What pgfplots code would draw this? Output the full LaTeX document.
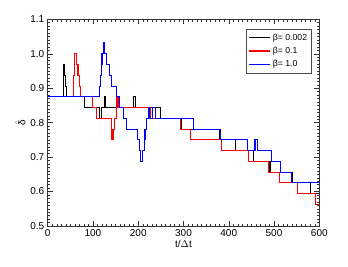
\documentclass[border=0pt]{standalone}
\usepackage{pgfplots}
\pgfplotsset{compat=1.18}
\usepackage{fontspec}
\setmainfont{Liberation Sans}
\begin{document}
\fontsize{10}{12}\selectfont
\begin{tikzpicture}[x=1pt,y=1pt]
\path[use as bounding box] (-47.7,-40) rectangle (300.3,226);
\begin{axis}[
  at={(0,0)}, anchor=south west,
  scale only axis, width=271.6pt, height=206.7pt,
  xmin=0, xmax=600, ymin=0.5, ymax=1.1,
  xtick={0,100,...,600}, ytick={0.5,0.6,...,1.1},
  minor x tick num=9, minor y tick num=9,
  tick align=inside, major tick length=5pt, minor tick length=2.5pt,
  xticklabel style={/pgf/number format/assume math mode=true},
  yticklabel style={/pgf/number format/assume math mode=true,
    /pgf/number format/fixed, /pgf/number format/fixed zerofill, /pgf/number format/precision=1},
  tick label style={font=\fontsize{10}{12}\selectfont},
  axis line style={black!80, line width=0.6pt},
  every tick/.style={black!80, line width=0.5pt},
  xlabel={t/$\Delta$t}, ylabel={\ensuremath{\hat{\mbox{δ}}}},
  label style={font=\fontsize{10}{12}\selectfont},
  xlabel style={yshift=3pt},
  ylabel style={yshift=-2pt},
  legend style={at={(0.973,0.953)}, anchor=north east, draw=black!70, line width=0.6pt,
    font=\fontsize{8.7}{10}\selectfont, row sep=1.6pt, inner sep=2.5pt, cells={anchor=west}},
  legend cell align=left,
  legend image code/.code={\draw[#1, line width=1.3pt] (0pt,0pt) -- (21pt,0pt);},
]
\addplot[const plot, black, line width=1.1pt] coordinates {
(0,0.875) (34,0.96875) (37,0.9375) (39,0.90625) (41,0.875) (82,0.84375) (114,0.8125) (118,0.84375) (125,0.875) (128,0.84375) (189,0.875) (193,0.84375) (250,0.8125) (295,0.78125) (379,0.75) (414,0.71875) (455,0.6875) (491,0.65625) (540,0.625) (581,0.59375) (600,0.59375)};
\addlegendentry{β= 0.002}
\addplot[const plot, red, line width=1.1pt] coordinates {
(0,0.875) (57,0.9375) (60,1.0) (64,0.96875) (67,0.9375) (70,0.90625) (73,0.875) (99,0.84375) (107,0.8125) (140,0.78125) (142,0.75) (145,0.78125) (148,0.8125) (151,0.84375) (153,0.875) (157,0.84375) (226,0.8125) (293,0.78125) (316,0.75) (384,0.71875) (443,0.6875) (487,0.65625) (513,0.625) (551,0.59375) (591,0.5625) (600,0.5625)};
\addlegendentry{β= 0.1}
\addplot[const plot, blue, line width=1.1pt] coordinates {
(0,0.875) (114,0.90625) (116,0.9375) (118,0.96875) (120,1.0) (123,1.03125) (126,1.0) (130,0.96875) (136,0.9375) (140,0.90625) (151,0.875) (159,0.84375) (167,0.8125) (174,0.78125) (199,0.75) (202,0.71875) (205,0.6875) (210,0.71875) (213,0.75) (215,0.78125) (218,0.8125) (222,0.84375) (225,0.8125) (231,0.84375) (238,0.8125) (323,0.78125) (381,0.75) (442,0.71875) (458,0.75) (463,0.71875) (495,0.6875) (515,0.65625) (539,0.625) (600,0.625)};
\addlegendentry{β= 1.0}
\end{axis}
\end{tikzpicture}
\end{document}
